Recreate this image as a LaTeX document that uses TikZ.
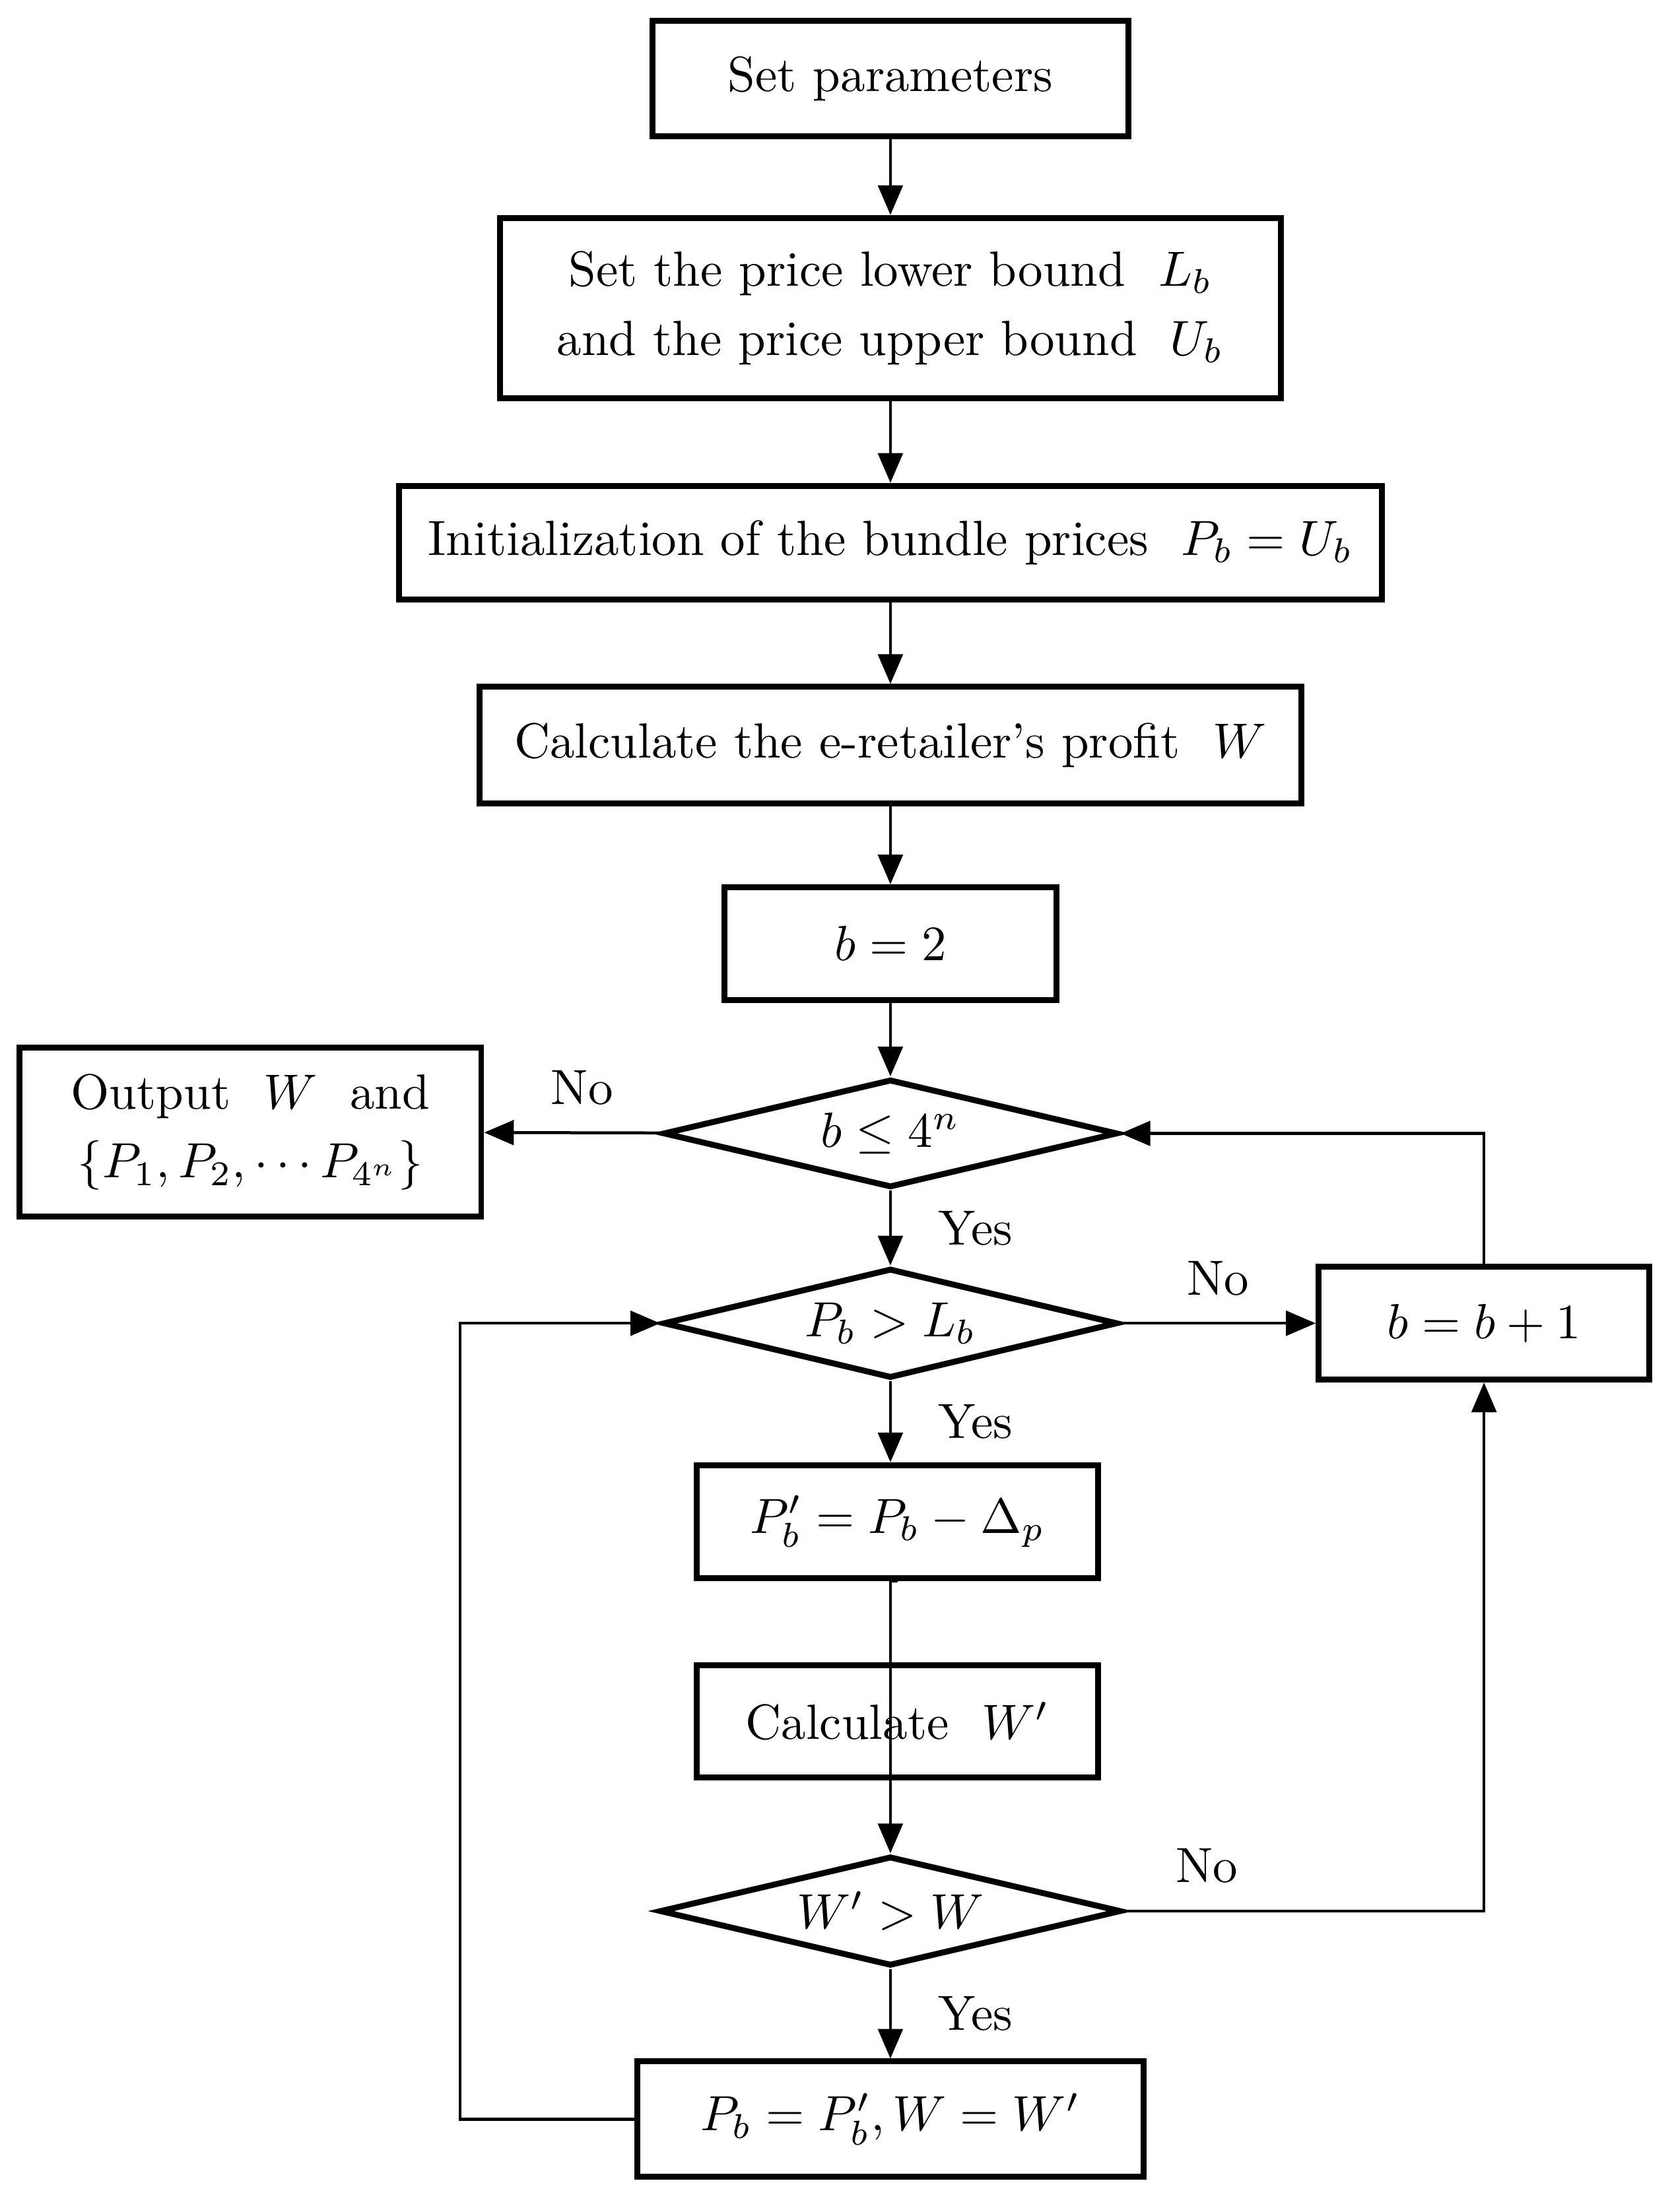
\documentclass[tikz,border=0pt]{standalone}
\usepackage{amsmath}
\usepackage{amssymb}
\usepackage{tikz}
\usetikzlibrary{arrows.meta,shapes.geometric}

\begin{document}
\begin{tikzpicture}[x=0.01cm, y=-0.01cm, font=\fontsize{10}{14}\selectfont,
  box/.style = {draw, line width=1.2pt, inner sep=2pt, align=center},
  dec/.style = {draw, diamond, line width=1.2pt, inner sep=1pt, shape aspect=4},
  arr/.style = {-{Triangle[length=6pt,width=5pt]}, line width=0.6pt}]
\useasboundingbox (0,0) rectangle (1190,1573);
			\node (a) at (633,56) [box, minimum width=3.38cm, minimum height=0.82cm] {Set parameters};
			\node (b) at (633,219) [box, minimum width=5.55cm, minimum height=1.28cm] {Set the price lower bound \ $L_b$\\ and the price upper bound \ $U_b$};
			\node (c) at (633,386) [box, minimum width=6.98cm, minimum height=0.81cm] {Initialization of the bundle prices \ $P_b = U_b$};
			\node (d) at (633,530) [box, minimum width=5.84cm, minimum height=0.83cm] {Calculate the e-retailer's profit \ $W$};
			\node (e) at (633,671) [box, minimum width=2.36cm, minimum height=0.80cm] {$b = 2$};
			\node (f) at (633,806) [dec, minimum width=3.23cm, minimum height=0.77cm] {$b \le 4^n$};
			\node (g) at (178,805) [box, minimum width=3.28cm, minimum height=1.20cm] {Output \ $W$ \ and\\ $\{P_1, P_2, \cdots P_{4^n}\}$};
			\node (h) at (633,941) [dec, minimum width=3.23cm, minimum height=0.78cm] {$P_b > L_b$};
			\node (i) at (1055,941) [box, minimum width=2.35cm, minimum height=0.80cm] {$b = b + 1$};
			\node (j) at (638,1082) [box, minimum width=2.85cm, minimum height=0.80cm] {$P_b' = P_b - \Delta_p$};
			\node (k) at (638,1224) [box, minimum width=2.85cm, minimum height=0.80cm] {Calculate \ $W'$};
			\node (l) at (633,1359) [dec, minimum width=3.28cm, minimum height=0.78cm] {$W' > W$};
			\node (m) at (633,1507) [box, minimum width=3.60cm, minimum height=0.82cm] {$P_b = P_b', W = W'$};
			\coordinate (m1) at (327,1507);
			\coordinate (h1) at (327,941);
			\coordinate (l1) at (1055,1359);
			\coordinate (f1) at (1055,806);
			\draw[arr] (a) -- (b);
			\draw[arr] (b) -- (c);
			\draw[arr] (c) -- (d);
			\draw[arr] (d) -- (e);
			\draw[arr] (e) -- (f);
			\draw[arr] (f) -- node[above, pos=0.45, yshift=2pt] {No} (g);
			\draw[arr] (f) -- node[right, xshift=6pt] {Yes} (h);
			\draw[arr] (h) -- node[above, yshift=2pt] {No} (i);
			\draw[arr] (h.south) -- node[right, xshift=6pt] {Yes} (h.south |- j.north);
			\draw[arr] (j.south) -- (j.south -| l.north) -- (l.north) ;
			\draw[arr] (l) -- node[right, xshift=6pt] {Yes} (m);
			\draw[arr] (l) -- node[above, pos=0.23, yshift=2pt] {No} (l1) -- (i);
			\draw[arr] (i) -- (f1) -- (f);
			\draw[arr] (m) -- (m1) -- (h1) -- (h);
\end{tikzpicture}
\end{document}
